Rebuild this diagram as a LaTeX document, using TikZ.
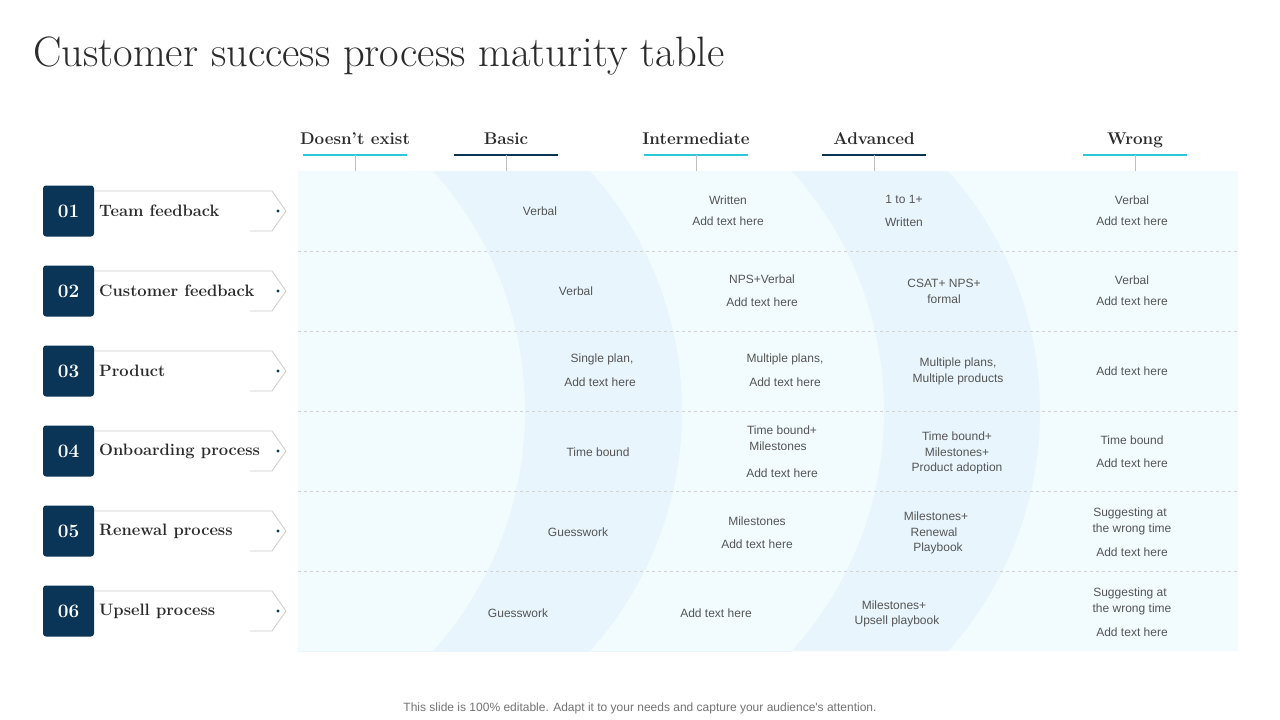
\documentclass[tikz,border=0pt]{standalone}
\usepackage{fontspec}
\newfontfamily\cellfont{Liberation Sans}
\definecolor{navy}{HTML}{0B3556}
\definecolor{cyanl}{HTML}{2BC9D8}
\definecolor{panel}{HTML}{F2FCFE}
\definecolor{band}{HTML}{E8F5FC}
\definecolor{txt}{HTML}{555555}
\definecolor{ttl}{HTML}{2B2B2B}
\tikzset{
 cell/.style={font=\cellfont\fontsize{12}{13}\selectfont, text=txt, inner sep=0pt, anchor=center},
 head/.style={font=\bfseries\fontsize{17}{18}\selectfont, text=ttl, inner sep=0pt, anchor=base},
 rowlab/.style={font=\bfseries\fontsize{16.5}{18}\selectfont, text=ttl, anchor=west, inner sep=0pt},
 numbox/.style={fill=navy, rounded corners=3pt, minimum width=51pt, minimum height=51pt, text=white, font=\bfseries\fontsize{19}{20}\selectfont, inner sep=0pt},
}
\begin{document}
\begin{tikzpicture}[x=1pt,y=-1pt]
\useasboundingbox[fill=white] (0,0) rectangle (1280,720);
\node[anchor=west, font=\fontsize{42.5}{46}\selectfont, text=ttl, inner sep=0pt] (title) at (33,56) {Customer success process maturity table};
% panel
\fill[panel] (298,171) rectangle (1238,651);
\begin{scope}
\clip (298,171) rectangle (1238,651);
\clip (323,411) circle (359);
\fill[band, even odd rule] (298,171) rectangle (1238,651) (166,411) circle (359);
\end{scope}
\begin{scope}
\clip (298,171) rectangle (1238,651);
\clip (681,411) circle (359);
\fill[band, even odd rule] (298,171) rectangle (1238,651) (525,411) circle (359);
\end{scope}
\foreach \y in {251,331,411,491,571} \draw[black!18, dashed, line width=0.6pt] (298,\y) -- (1238,\y);
% headers
\foreach \n/\x/\t/\c in {h1/355/{Doesn’t exist}/cyanl, h2/506/Basic/navy, h3/696/Intermediate/cyanl, h4/874/Advanced/navy, h5/1135/Wrong/cyanl}{
 \node[head] (\n) at (\x,144) {\t};
 \coordinate (\n u) at (\x,155);
 \draw[\c, line width=2pt] ([xshift=-52pt]\n u) -- ([xshift=52pt]\n u);
 \draw[black!25, line width=0.6pt] (\n u) -- ++(0,16);
}
% rows
\foreach \i/\y/\t in {1/211/Team feedback, 2/291/Customer feedback, 3/371/Product, 4/451/Onboarding process, 5/531/Renewal process, 6/611/Upsell process}{
 \draw[black!20, line width=0.8pt] (94,\y-20) -- (272,\y-20) -- (286,\y) -- (272,\y+20) -- (250,\y+20);
 \node[numbox] (n\i) at (68.5,\y) {0\i};
 \node[rowlab] (l\i) at (99,\y) {\t};
 \fill[navy] (278,\y) circle (1.6);
}
% cells
\node[cell] (a1) at (540,211) {Verbal};
\node[cell] (b1a) at (728,200) {Written};
\node[cell] (b1b) at (728,221) {Add text here};
\node[cell] (c1a) at (904,199) {1 to 1+};
\node[cell] (c1b) at (904,222) {Written};
\node[cell] (d1a) at (1132,200) {Verbal};
\node[cell] (d1b) at (1132,221) {Add text here};
\node[cell] (a2) at (576,291) {Verbal};
\node[cell] (b2a) at (762,279) {NPS+Verbal};
\node[cell] (b2b) at (762,302) {Add text here};
\node[cell] (c2a) at (944,283) {CSAT+ NPS+};
\node[cell] (c2b) at (944,299) {formal};
\node[cell] (d2a) at (1132,280) {Verbal};
\node[cell] (d2b) at (1132,301) {Add text here};
\node[cell] (a3a) at (602,359) {Single plan,};
\node[cell] (a3b) at (600,382) {Add text here};
\node[cell] (b3a) at (785,359) {Multiple plans,};
\node[cell] (b3b) at (785,382) {Add text here};
\node[cell] (c3a) at (958,363) {Multiple plans,};
\node[cell] (c3b) at (958,379) {Multiple products};
\node[cell] (d3) at (1132,371) {Add text here};
\node[cell] (a4) at (598,452) {Time bound};
\node[cell] (b4a) at (782,430) {Time bound+};
\node[cell] (b4b) at (778,446) {Milestones};
\node[cell] (b4c) at (782,473) {Add text here};
\node[cell] (c4a) at (957,436) {Time bound+};
\node[cell] (c4b) at (957,452) {Milestones+};
\node[cell] (c4c) at (957,468) {Product adoption};
\node[cell] (d4a) at (1132,440) {Time bound};
\node[cell] (d4b) at (1132,463) {Add text here};
\node[cell] (a5) at (578,532) {Guesswork};
\node[cell] (b5a) at (757,521) {Milestones};
\node[cell] (b5b) at (757,544) {Add text here};
\node[cell] (c5a) at (936,516) {Milestones+};
\node[cell] (c5b) at (934,532) {Renewal};
\node[cell] (c5c) at (938,548) {Playbook};
\node[cell] (d5a) at (1130,513) {Suggesting at};
\node[cell] (d5b) at (1132,529) {the wrong time};
\node[cell] (d5c) at (1132,552) {Add text here};
\node[cell] (a6) at (518,613) {Guesswork};
\node[cell] (b6) at (716,613) {Add text here};
\node[cell] (c6a) at (894,605) {Milestones+};
\node[cell] (c6b) at (897,621) {Upsell playbook};
\node[cell] (d6a) at (1130,593) {Suggesting at};
\node[cell] (d6b) at (1132,609) {the wrong time};
\node[cell] (d6c) at (1132,632) {Add text here};
\node[cell, font=\cellfont\fontsize{12}{13}\selectfont, text=black!55] (foot) at (640,708) {This slide is 100\% editable. Adapt it to your needs and capture your audience's attention.};
\end{tikzpicture}
\end{document}
